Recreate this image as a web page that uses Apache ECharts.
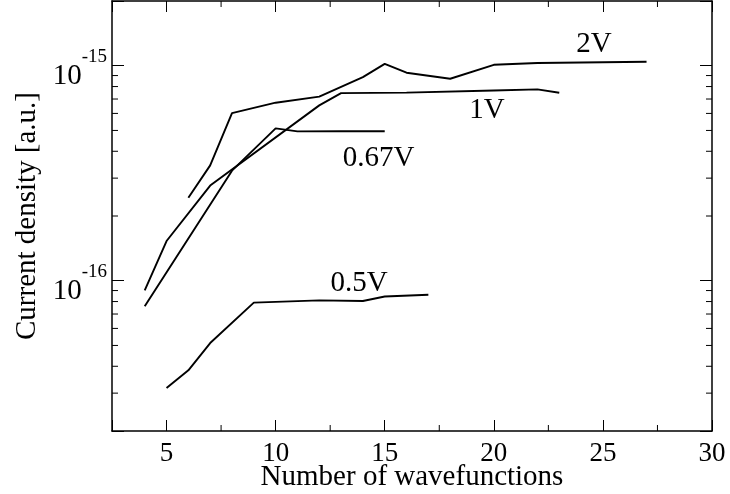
<!DOCTYPE html>
<html>
<head>
<meta charset="utf-8">
<script src="https://cdn.jsdelivr.net/npm/echarts@6/dist/echarts.min.js"></script>
<style>
    html, body { margin: 0; padding: 0; background: #fff; }
    #main { width: 730px; height: 494px; }
</style>
</head>
<body>
<div id="main"></div>
<script>
// values
var x05 = [5, 6, 7, 9, 12, 14, 15, 17];
var y05 = [3.17e-17, 3.83e-17, 5.13e-17, 7.91e-17, 8.1e-17, 8.05e-17, 8.45e-17, 8.61e-17];

var x067 = [4, 8, 10, 11, 13, 15];
var y067 = [7.6e-17, 3.25e-16, 5.11e-16, 4.95e-16, 4.96e-16, 4.96e-16];

var x1 = [4, 5, 7, 12, 13, 16, 20, 22, 23];
var y1 = [9.02e-17, 1.53e-16, 2.77e-16, 6.54e-16, 7.46e-16, 7.5e-16, 7.67e-16, 7.76e-16, 7.49e-16];

var x2 = [6, 7, 8, 10, 12, 14, 15, 16, 18, 20, 22, 27];
var y2 = [2.43e-16, 3.44e-16, 6.02e-16, 6.73e-16, 7.18e-16, 8.85e-16, 1.02e-15, 9.28e-16, 8.7e-16, 1.01e-15, 1.03e-15, 1.043e-15];

var seriesNames = ['0.5V', '0.67V', '1V', '2V'];
// where each series name is written, in data units
var labelX = [13.83, 14.72, 19.69, 24.59];
var labelY = [9.71e-17, 3.71e-16, 6.19e-16, 1.26e-15];

var xMinorTicks = [7.5, 12.5, 17.5, 22.5, 27.5];
var yMinorTicks = [3e-17, 4e-17, 5e-17, 6e-17, 7e-17, 8e-17, 9e-17,
    2e-16, 3e-16, 4e-16, 5e-16, 6e-16, 7e-16, 8e-16, 9e-16];

var FONT = 'Liberation Serif';
var BLACK = '#000';

function pairs(xs, ys) {
    var out = [];
    for (var i = 0; i < xs.length; i++) {
        out.push([xs[i], ys[i]]);
    }
    return out;
}

function lineSeries(idx, xs, ys) {
    return {
        name: seriesNames[idx],
        type: 'line',
        data: pairs(xs, ys),
        symbol: 'none',
        lineStyle: { color: BLACK, width: 1.9 },
        markPoint: {
            symbol: 'circle',
            symbolSize: 1,
            itemStyle: { color: 'rgba(0,0,0,0)' },
            label: {
                show: true,
                position: 'inside',
                formatter: seriesNames[idx],
                fontFamily: FONT,
                fontSize: 29,
                color: BLACK
            },
            data: [{ coord: [labelX[idx], labelY[idx]] }]
        }
    };
}

var chart = echarts.init(document.getElementById('main'));

var option = {
    animation: false,
    backgroundColor: '#fff',
    grid: { left: 112, right: 18, top: 1, bottom: 63, containLabel: false, outerBoundsMode: 'none' },
    xAxis: [{
        type: 'value',
        min: 2.5,
        max: 30,
        position: 'bottom',
        splitLine: { show: false },
        axisLine: { lineStyle: { color: BLACK, width: 1.5 } },
        axisTick: { inside: true, length: 11, lineStyle: { color: BLACK, width: 1 } },
        axisLabel: {
            margin: 9,
            fontFamily: FONT,
            fontSize: 27,
            color: BLACK,
            formatter: function (v) {
                return v % 5 === 0 ? String(v) : '';
            }
        },
        name: 'Number of wavefunctions',
        nameLocation: 'middle',
        nameGap: 32,
        nameMoveOverlap: false,
        nameTextStyle: { fontFamily: FONT, fontSize: 29, color: BLACK }
    }, {
        type: 'value',
        min: 2.5,
        max: 30,
        position: 'top',
        splitLine: { show: false },
        axisLine: { lineStyle: { color: BLACK, width: 1.5 } },
        axisTick: { inside: true, length: 11, lineStyle: { color: BLACK, width: 1 } },
        axisLabel: { show: false }
    }],
    yAxis: [{
        type: 'log',
        logBase: 10,
        min: 2e-17,
        max: 2e-15,
        position: 'left',
        splitLine: { show: false },
        axisLine: { lineStyle: { color: BLACK, width: 1.5 } },
        axisTick: { inside: true, length: 12, lineStyle: { color: BLACK, width: 1 } },
        axisLabel: {
            margin: 5,
            color: BLACK,
            padding: [7, 0, 0, 0],
            formatter: function (v) {
                var lg = Math.log10(v);
                var e = Math.round(lg);
                if (Math.abs(lg - e) > 1e-6) return '';
                return '{b|10}{s|' + e + '}';
            },
            rich: {
                b: { fontFamily: FONT, fontSize: 29, color: BLACK, padding: [14, 0, 0, 0] },
                s: { fontFamily: FONT, fontSize: 19, color: BLACK, verticalAlign: 'top' }
            }
        },
        name: 'Current density [a.u.]',
        nameLocation: 'middle',
        nameRotate: 90,
        nameGap: 70,
        nameMoveOverlap: false,
        nameTextStyle: { fontFamily: FONT, fontSize: 29, color: BLACK }
    }, {
        type: 'log',
        logBase: 10,
        min: 2e-17,
        max: 2e-15,
        position: 'right',
        splitLine: { show: false },
        axisLine: { lineStyle: { color: BLACK, width: 1.5 } },
        axisTick: { inside: true, length: 12, lineStyle: { color: BLACK, width: 1 } },
        axisLabel: { show: false }
    }],
    series: [
        lineSeries(0, x05, y05),
        lineSeries(1, x067, y067),
        lineSeries(2, x1, y1),
        lineSeries(3, x2, y2),
        {
            // minor ticks of the y axis, both sides
            type: 'custom',
            silent: true,
            data: yMinorTicks.map(function (v) { return [2.5, v]; }),
            renderItem: function (params, api) {
                var cs = params.coordSys;
                var p = api.coord([api.value(0), api.value(1)]);
                var st = { stroke: BLACK, lineWidth: 1 };
                return {
                    type: 'group',
                    children: [
                        { type: 'line', shape: { x1: cs.x, y1: p[1], x2: cs.x + 6, y2: p[1] }, style: st },
                        { type: 'line', shape: { x1: cs.x + cs.width - 6, y1: p[1], x2: cs.x + cs.width, y2: p[1] }, style: st }
                    ]
                };
            }
        },
        {
            // minor ticks of the x axis, top and bottom
            type: 'custom',
            silent: true,
            data: xMinorTicks.map(function (v) { return [v, 2e-17]; }),
            renderItem: function (params, api) {
                var cs = params.coordSys;
                var p = api.coord([api.value(0), api.value(1)]);
                var st = { stroke: BLACK, lineWidth: 1 };
                return {
                    type: 'group',
                    children: [
                        { type: 'line', shape: { x1: p[0], y1: cs.y + cs.height, x2: p[0], y2: cs.y + cs.height - 6 }, style: st },
                        { type: 'line', shape: { x1: p[0], y1: cs.y, x2: p[0], y2: cs.y + 6 }, style: st }
                    ]
                };
            }
        }
    ]
};

chart.setOption(option);
</script>
</body>
</html>
